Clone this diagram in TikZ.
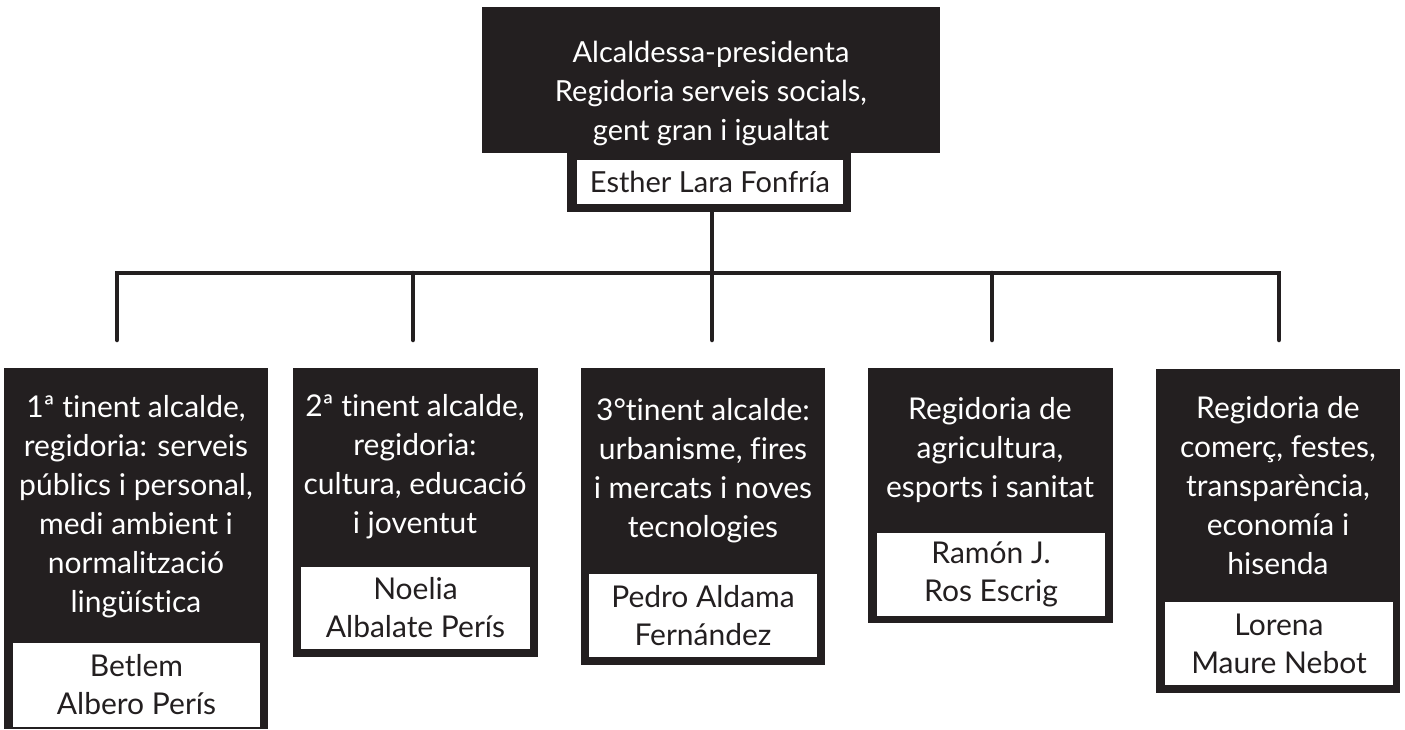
\documentclass[tikz,border=0pt]{standalone}
\usepackage{fontspec}
\setmainfont{Lato}[Ligatures=NoCommon]
\definecolor{ink}{HTML}{231F20}
\begin{document}
\begin{tikzpicture}[x=1pt,y=-1pt,
  darkbox/.style={fill=ink,draw=none,inner sep=0pt,outer sep=0pt,anchor=north west},
  whitebox/.style={fill=white,draw=none,inner sep=0pt,outer sep=0pt,anchor=north west,
     text=ink,align=center,font=\fontsize{30}{38}\selectfont},
  title/.style={text=white,align=center,inner sep=0pt,font=\fontsize{30}{39}\selectfont},
  conn/.style={draw=ink,line width=4.5pt,line cap=round,line join=miter}]
\useasboundingbox (0,0) rectangle (1405,729);
% top
\node[darkbox,minimum width=458pt,minimum height=146pt] (top) at (482,7) {};
\node[darkbox,minimum width=284pt,minimum height=59pt] (topframe) at (567,153) {};
\node[whitebox,minimum width=266pt,minimum height=44pt,font=\fontsize{29}{38}\selectfont] (topname) at (577,160) {Esther Lara Fonfría};
\node[title,font=\fontsize{29}{39}\selectfont] (toptitle) at (711,93) {Alcaldessa-presidenta\\Regidoria serveis socials,\\gent gran i igualtat};
% box 1
\node[darkbox,minimum width=264pt,minimum height=361pt] (b1) at (4,368) {};
\node[whitebox,minimum width=247pt,minimum height=84pt] (n1) at (13,643) {Betlem\\Albero Perís};
\node[title] (t1) at (136,507) {1ª tinent alcalde,\\regidoria: serveis\\públics i personal,\\medi ambient i\\normalització\\lingüística};
% box 2
\node[darkbox,minimum width=245pt,minimum height=289pt] (b2) at (293,368) {};
\node[whitebox,minimum width=229pt,minimum height=82pt] (n2) at (301,567) {Noelia\\Albalate Perís};
\node[title] (t2) at (415,467) {2ª tinent alcalde,\\regidoria:\\cultura, educació\\i joventut};
% box 3
\node[darkbox,minimum width=244pt,minimum height=297pt] (b3) at (581,368) {};
\node[whitebox,minimum width=228pt,minimum height=83pt] (n3) at (589,574) {Pedro Aldama\\Fernández};
\node[title] (t3) at (703,471) {3°tinent alcalde:\\urbanisme, fires\\i mercats i noves\\tecnologies};
% box 4
\node[darkbox,minimum width=245pt,minimum height=255pt] (b4) at (868,368) {};
\node[whitebox,minimum width=228pt,minimum height=83pt] (n4) at (877,533) {Ramón J.\\Ros Escrig};
\node[title] (t4) at (990,450) {Regidoria de\\agricultura,\\esports i sanitat};
% box 5
\node[darkbox,minimum width=244pt,minimum height=324pt] (b5) at (1156,369) {};
\node[whitebox,minimum width=228pt,minimum height=83pt] (n5) at (1165,602) {Lorena\\Maure Nebot};
\node[title] (t5) at (1278,486) {Regidoria de\\comerç, festes,\\transparència,\\economía i\\hisenda};
% connectors
\coordinate (hub) at (712,273);
\coordinate (j1) at (117,340);
\coordinate (j2) at (413,340);
\coordinate (j3) at (712,340);
\coordinate (j4) at (992,340);
\coordinate (j5) at (1279,340);
\draw[conn] (j1) |- (hub) -| (j5);
\draw[conn] (j3 |- topframe.south) -- (j3);
\draw[conn] (j2) -- (j2 |- hub);
\draw[conn] (j4) -- (j4 |- hub);
\end{tikzpicture}
\end{document}
